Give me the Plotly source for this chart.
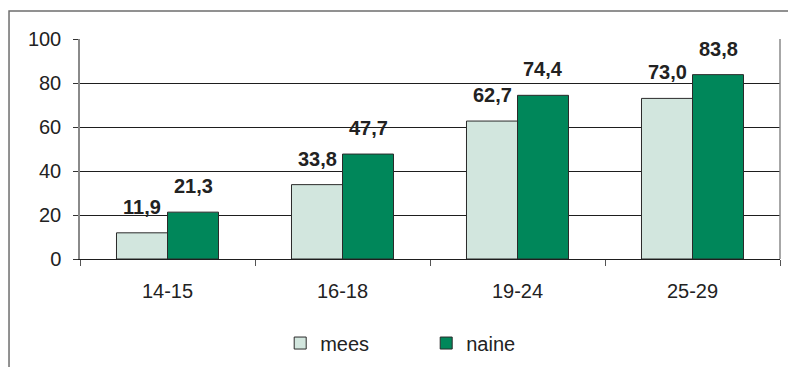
import plotly.graph_objects as go

# Age groups and shares (%) for men ("mees") and women ("naine")
age_groups = ["14-15", "16-18", "19-24", "25-29"]
mees = [11.9, 33.8, 62.7, 73.0]
naine = [21.3, 47.7, 74.4, 83.8]
y_ticks = [0, 20, 40, 60, 80, 100]

FONT = "Liberation Sans, Arial, sans-serif"
LIGHT = "#d2e6de"
GREEN = "#00875a"
OUTLINE = "#2a2a2a"

fig = go.Figure()
fig.add_trace(go.Bar(name="mees", x=age_groups, y=mees,
                     marker=dict(color=LIGHT, line=dict(color=OUTLINE, width=1))))
fig.add_trace(go.Bar(name="naine", x=age_groups, y=naine,
                     marker=dict(color=GREEN, line=dict(color=OUTLINE, width=1))))

# Value labels above each bar, decimal comma
bar_half = 25.5
for values, shift in ((mees, -bar_half), (naine, bar_half)):
    for cat, v in zip(age_groups, values):
        fig.add_annotation(x=cat, y=v, xref="x", yref="y",
                           text=f"<b>{v:.1f}</b>".replace(".", ","),
                           showarrow=False, xshift=shift, yshift=13,
                           yanchor="bottom",
                           font=dict(family=FONT, size=20, color="#222"))

# Outer frame around the whole chart (right and bottom edges run off the page)
fig.add_shape(type="rect", xref="paper", yref="paper",
              x0=-0.1014, x1=1.03, y0=-0.55, y1=1.127,
              line=dict(color="#6e6e6e", width=1.5), layer="below")
# Right edge of the plotting area
fig.add_shape(type="line", xref="paper", yref="paper",
              x0=1, x1=1, y0=0, y1=1,
              line=dict(color="#8a8a8a", width=1.5))

fig.update_layout(
    width=788, height=367,
    margin=dict(l=80, r=8, t=39, b=108, autoexpand=False),
    paper_bgcolor="white", plot_bgcolor="white",
    barmode="group", bargap=0.417, bargroupgap=0,
    font=dict(family=FONT, size=20, color="#222"),
    showlegend=True,
    legend=dict(orientation="h", x=0.286, y=-0.382,
                xanchor="left", yanchor="middle",
                entrywidth=101, entrywidthmode="pixels",
                font=dict(family=FONT, size=20, color="#222"),
                itemclick=False, itemdoubleclick=False),
)
fig.update_xaxes(
    showgrid=False, showline=True, linecolor="#1e1e1e", linewidth=1,
    ticks="outside", tickson="boundaries", ticklen=6, tickcolor="#555",
    ticklabelstandoff=14, tickfont=dict(family=FONT, size=20, color="#222"),
)
fig.update_yaxes(
    range=[0, 100], tickvals=y_ticks, showgrid=True,
    gridcolor="#1e1e1e", gridwidth=1, zeroline=False,
    showline=True, linecolor="#8a8a8a", linewidth=1.5,
    ticks="outside", ticklen=5, tickcolor="#333",
    ticklabelstandoff=8, tickfont=dict(family=FONT, size=20, color="#222"),
)

fig.write_html("out.html")
